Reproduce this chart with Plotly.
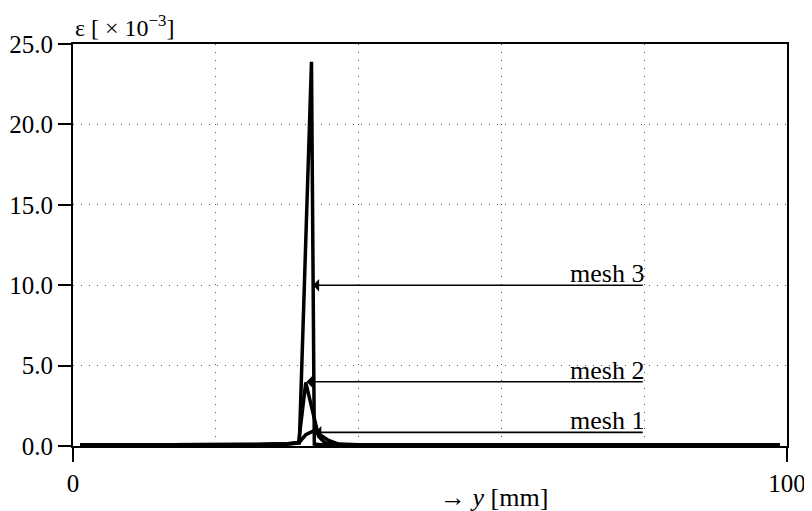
import plotly.graph_objects as go

# ---- data ----
mesh1_x = [1, 10, 20, 26, 30, 31.6, 32.6, 33.6, 34.6, 35.8, 37.2, 40, 60, 80, 99]
mesh1_y = [0.06, 0.06, 0.07, 0.09, 0.12, 0.18, 0.7, 0.92, 0.7, 0.35, 0.12, 0.07, 0.06, 0.06, 0.06]

mesh2_x = [1, 10, 20, 26, 30, 31.6, 32.6, 33.5, 34.4, 35.3, 36.6, 40, 60, 80, 99]
mesh2_y = [0.06, 0.06, 0.07, 0.09, 0.13, 0.22, 3.95, 2.2, 0.6, 0.2, 0.08, 0.06, 0.06, 0.06, 0.06]

mesh3_x = [1, 10, 20, 26, 30, 31.7, 33.4, 33.8, 35, 40, 60, 80, 99]
mesh3_y = [0.06, 0.06, 0.07, 0.09, 0.14, 0.2, 23.9, 0.12, 0.07, 0.06, 0.06, 0.06, 0.06]

labels = ["mesh 1", "mesh 2", "mesh 3"]
arrow_tip_x = [33.9, 32.7, 33.6]
arrow_y = [0.85, 4.0, 10.0]
arrow_tail_x = 80

x_ticks = [0, 100]
x_grid = [20, 40, 60, 80]
y_ticks = [0, 5, 10, 15, 20, 25]

FONT = "Liberation Serif, Times New Roman, serif"

fig = go.Figure()
for xs, ys, name in [(mesh1_x, mesh1_y, labels[0]), (mesh2_x, mesh2_y, labels[1]), (mesh3_x, mesh3_y, labels[2])]:
    fig.add_trace(go.Scatter(x=xs, y=ys, mode="lines", name=name,
                             line=dict(color="black", width=3.5), showlegend=False))

for lab, tx, ay in zip(labels, arrow_tip_x, arrow_y):
    fig.add_annotation(x=tx, y=ay, ax=arrow_tail_x, ay=ay, axref="x", ayref="y",
                       xref="x", yref="y", text="", showarrow=True,
                       arrowhead=1, arrowsize=1.3, arrowwidth=1.6, arrowcolor="black")
    fig.add_annotation(x=arrow_tail_x, y=ay, xref="x", yref="y", text=lab,
                       showarrow=False, xanchor="right", yanchor="bottom",
                       xshift=2, yshift=-5, font=dict(family=FONT, size=26, color="black"))

fig.add_annotation(x=0, y=1, xref="paper", yref="paper", xanchor="left", yanchor="bottom",
                   xshift=0, yshift=1, showarrow=False,
                   text="ε [ × 10<sup>−3</sup>]", font=dict(family=FONT, size=24, color="black"))
fig.add_annotation(x=0.59, y=0, xref="paper", yref="paper", xanchor="center", yanchor="top",
                   yshift=-35, showarrow=False,
                   text="→ <i>y</i> [mm]", font=dict(family=FONT, size=26, color="black"))

fig.update_xaxes(range=[0, 100], tickvals=x_ticks, ticktext=["0", "100"], automargin=False,
                 ticks="outside", ticklen=14, tickwidth=2, tickcolor="black",
                 showline=True, linecolor="black", linewidth=2, mirror=True,
                 showgrid=False, zeroline=False,
                 tickfont=dict(family=FONT, size=25, color="black"),
                 minor=dict(tickvals=x_grid, showgrid=True, gridcolor="#555",
                            griddash="1px,7px", gridwidth=1.2, ticks=""))
fig.update_yaxes(range=[0, 25], tickvals=y_ticks, tickformat=".1f", automargin=False,
                 ticks="outside", ticklen=13, tickwidth=2, tickcolor="black",
                 showline=True, linecolor="black", linewidth=2, mirror=True,
                 showgrid=True, gridcolor="#555", griddash="1px,7px", gridwidth=1.2,
                 zeroline=False,
                 tickfont=dict(family=FONT, size=25, color="black"))

# page body adds an 8px offset; compensate so the plot frame lands where the reference has it
fig.update_layout(width=804, height=503, plot_bgcolor="white", paper_bgcolor="white",
                  margin=dict(l=65, r=25, t=36, b=65, autoexpand=False), font=dict(family=FONT))

fig.write_html("out.html")
